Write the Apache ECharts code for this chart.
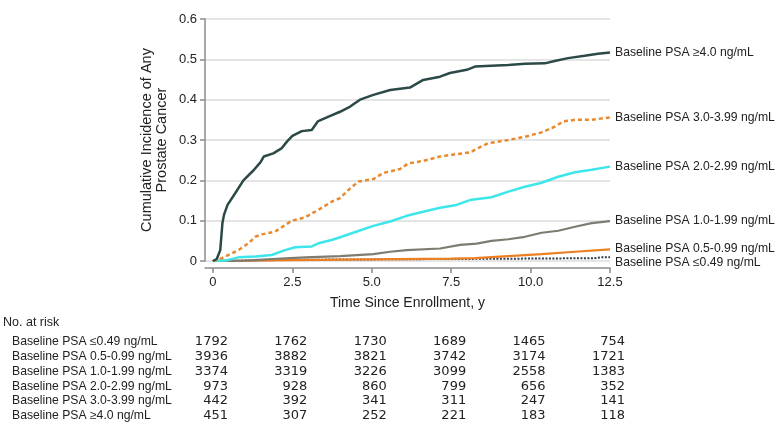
<!DOCTYPE html>
<html>
<head>
<meta charset="utf-8">
<script src="https://cdn.jsdelivr.net/npm/echarts/dist/echarts.min.js"></script>
<style>
  html, body { margin: 0; padding: 0; background: #fff; }
  #chart { width: 780px; height: 447px; }
</style>
</head>
<body>
<div id="chart"></div>
<script>
  // cumulative incidence curves, [years, incidence]
  var psaGe40 = [[0,0],[0.12,0.005],[0.23,0.027],[0.3,0.095],[0.35,0.115],[0.46,0.139],[0.7,0.168],[0.96,0.2],[1.28,0.225],[1.5,0.245],[1.6,0.259],[1.9,0.267],[2.17,0.28],[2.33,0.296],[2.5,0.31],[2.8,0.322],[3.11,0.325],[3.3,0.346],[3.64,0.358],[4.0,0.37],[4.32,0.383],[4.63,0.4],[5.05,0.412],[5.58,0.424],[6.2,0.43],[6.62,0.449],[7.15,0.457],[7.46,0.466],[7.99,0.474],[8.25,0.482],[8.77,0.484],[9.3,0.486],[9.82,0.489],[10.45,0.49],[10.76,0.496],[11.18,0.503],[11.7,0.509],[12.12,0.514],[12.5,0.517]];
  var psa30 = [[0,0],[0.28,0.007],[0.8,0.027],[1.12,0.044],[1.33,0.06],[1.54,0.066],[1.96,0.073],[2.27,0.089],[2.48,0.1],[2.9,0.108],[3.32,0.127],[3.74,0.147],[4.0,0.156],[4.32,0.18],[4.58,0.197],[5.05,0.203],[5.36,0.218],[5.89,0.228],[6.15,0.242],[6.62,0.248],[7.15,0.259],[7.67,0.265],[8.09,0.269],[8.35,0.28],[8.67,0.292],[9.3,0.3],[9.82,0.308],[10.35,0.319],[10.76,0.333],[11.03,0.346],[11.4,0.35],[11.92,0.35],[12.5,0.356]];
  var psa20 = [[0,0],[0.39,0.001],[0.8,0.009],[1.33,0.011],[1.85,0.015],[2.27,0.027],[2.59,0.034],[3.11,0.036],[3.32,0.044],[3.74,0.052],[4.05,0.06],[4.53,0.073],[5.05,0.087],[5.58,0.098],[6.1,0.112],[6.62,0.122],[7.15,0.132],[7.67,0.139],[8.09,0.151],[8.77,0.158],[9.3,0.172],[9.82,0.184],[10.35,0.194],[10.87,0.209],[11.4,0.22],[11.92,0.226],[12.5,0.234]];
  var psa10 = [[0,0],[1.0,0.001],[1.85,0.005],[2.9,0.009],[4.0,0.012],[5.05,0.017],[5.58,0.023],[6.1,0.027],[7.15,0.031],[7.78,0.04],[8.3,0.043],[8.77,0.05],[9.3,0.054],[9.82,0.06],[10.35,0.07],[10.87,0.075],[11.4,0.085],[11.92,0.094],[12.5,0.099]];
  var psa05 = [[0,0],[2.5,0.002],[5.0,0.004],[7.5,0.006],[8.25,0.007],[9.3,0.012],[10.35,0.017],[11.4,0.023],[12.5,0.029]];
  var psaLe049 = [[0,0],[1.0,0.001],[2.5,0.003],[5.0,0.004],[7.5,0.005],[10.0,0.006],[12.0,0.007],[12.2,0.009],[12.5,0.009]];

  var seriesNames = [
    'Baseline PSA \u22654.0 ng/mL',
    'Baseline PSA 3.0-3.99 ng/mL',
    'Baseline PSA 2.0-2.99 ng/mL',
    'Baseline PSA 1.0-1.99 ng/mL',
    'Baseline PSA 0.5-0.99 ng/mL',
    'Baseline PSA \u22640.49 ng/mL'
  ];

  // number at risk table
  var riskTimes = [0, 2.5, 5.0, 7.5, 10.0, 12.5];
  var riskLabels = [
    'Baseline PSA \u22640.49 ng/mL',
    'Baseline PSA 0.5-0.99 ng/mL',
    'Baseline PSA 1.0-1.99 ng/mL',
    'Baseline PSA 2.0-2.99 ng/mL',
    'Baseline PSA 3.0-3.99 ng/mL',
    'Baseline PSA \u22654.0 ng/mL'
  ];
  var riskLe049 = [1792, 1762, 1730, 1689, 1465, 754];
  var risk05 = [3936, 3882, 3821, 3742, 3174, 1721];
  var risk10 = [3374, 3319, 3226, 3099, 2558, 1383];
  var risk20 = [973, 928, 860, 799, 656, 352];
  var risk30 = [442, 392, 341, 311, 247, 141];
  var riskGe40 = [451, 307, 252, 221, 183, 118];

  var xTickValues = [0, 2.5, 5.0, 7.5, 10.0, 12.5];
  var xTicks = ['0', '2.5', '5.0', '7.5', '10.0', '12.5'];
  var yTicks = ['0', '0.1', '0.2', '0.3', '0.4', '0.5', '0.6'];

  var FONT = '"Liberation Sans", Arial, sans-serif';
  var NUMFONT = '"DejaVu Sans", sans-serif';
  var TXT = '#222';
  var AXIS = '#8c8c8c';

  var myChart = echarts.init(document.getElementById('chart'), null, { renderer: 'canvas' });

  function makeLine(name, data, color, width, type, labelOffset) {
    return {
      name: name,
      type: 'line',
      data: data,
      symbol: 'none',
      silent: true,
      lineStyle: { color: color, width: width, type: type },
      endLabel: {
        show: true,
        formatter: name,
        distance: 5,
        offset: labelOffset || [0, 0],
        fontFamily: FONT,
        fontSize: 12.2,
        color: TXT
      },
      z: 3
    };
  }

  var option = {
    animation: false,
    backgroundColor: '#fff',
    grid: { left: 205, right: 170, top: 19, bottom: 186, containLabel: false },
    xAxis: {
      type: 'value',
      min: -0.25,
      max: 12.5,
      offset: 7,
      name: 'Time Since Enrollment, y',
      nameLocation: 'middle',
      nameGap: 28,
      nameTextStyle: { fontFamily: FONT, fontSize: 14, color: TXT },
      axisLine: { show: true, onZero: false, lineStyle: { color: AXIS, width: 1.5 } },
      axisTick: { show: true, length: 5, customValues: xTickValues, lineStyle: { color: AXIS, width: 1.5 } },
      axisLabel: {
        margin: 8,
        customValues: xTickValues,
        fontFamily: FONT,
        fontSize: 13,
        color: TXT,
        formatter: function (v) { return xTicks[xTickValues.indexOf(v)]; }
      },
      splitLine: { show: false }
    },
    yAxis: {
      type: 'value',
      min: 0,
      max: 0.6,
      interval: 0.1,
      axisLine: { show: true, onZero: false, lineStyle: { color: AXIS, width: 1.5 } },
      axisTick: { show: true, length: 5, lineStyle: { color: AXIS, width: 1.5 } },
      axisLabel: {
        margin: 8,
        fontFamily: FONT,
        fontSize: 13,
        color: TXT,
        formatter: function (v) { return yTicks[Math.round(v * 10)]; }
      },
      splitLine: { show: true, lineStyle: { color: '#dcdcdc', width: 1.5 } }
    },
    series: [
      makeLine(seriesNames[5], psaLe049, '#2c3e50', 2, [2, 1.5], [0, 5]),
      makeLine(seriesNames[4], psa05, '#ec7f22', 2.2, 'solid', [0, -1]),
      makeLine(seriesNames[3], psa10, '#7e7b70', 2.2, 'solid'),
      makeLine(seriesNames[2], psa20, '#3de6ea', 2.5, 'solid'),
      makeLine(seriesNames[1], psa30, '#e8892e', 2.5, [4, 3]),
      makeLine(seriesNames[0], psaGe40, '#2b4a47', 2.5, 'solid')
    ]
  };

  myChart.setOption(option);

  // y title and number-at-risk table, positioned from the x axis scale
  var riskRows = [riskLe049, risk05, risk10, risk20, risk30, riskGe40];
  var rowY = [342, 357, 372, 387, 401, 416];
  var elements = [
    {
      type: 'text',
      x: 154, y: 140,
      rotation: Math.PI / 2,
      style: {
        text: 'Cumulative Incidence of Any\nProstate Cancer',
        align: 'center', verticalAlign: 'middle',
        fontFamily: FONT, fontSize: 14.5, lineHeight: 15, fill: TXT
      }
    },
    {
      type: 'text',
      x: 3, y: 323,
      style: { text: 'No. at risk', align: 'left', verticalAlign: 'middle', fontFamily: FONT, fontSize: 12.5, fill: TXT }
    }
  ];
  riskLabels.forEach(function (lab, r) {
    elements.push({
      type: 'text',
      x: 12, y: rowY[r],
      style: { text: lab, align: 'left', verticalAlign: 'middle', fontFamily: FONT, fontSize: 12.2, fill: TXT }
    });
    riskTimes.forEach(function (t, c) {
      var px = myChart.convertToPixel({ xAxisIndex: 0 }, t);
      elements.push({
        type: 'text',
        x: px + 15, y: rowY[r],
        style: { text: String(riskRows[r][c]), align: 'right', verticalAlign: 'middle', fontFamily: NUMFONT, fontSize: 13, fill: TXT }
      });
    });
  });
  myChart.setOption({ graphic: elements });
</script>
</body>
</html>
